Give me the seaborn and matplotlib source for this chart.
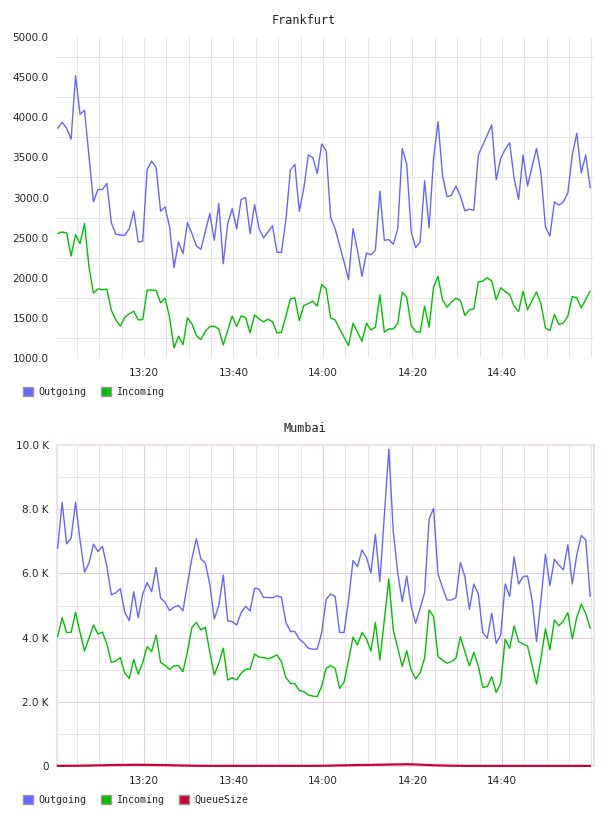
import numpy as np
import pandas as pd
import matplotlib
matplotlib.use("Agg")
import matplotlib.pyplot as plt
import seaborn as sns
from matplotlib.patches import Patch
from matplotlib.ticker import FixedLocator, MultipleLocator

# ---------------- data ----------------
series_names = ["Outgoing", "Incoming", "QueueSize"]
colors = {"Outgoing": "#6666ff", "Incoming": "#00c000", "QueueSize": "#cc0033"}

# one sample per minute, first sample at 13:00:43
frankfurt_out = [3863, 3937, 3863, 3729, 4517, 4037, 4087, 3508, 2946, 3100,
                 3100, 3175, 2683, 2542, 2533, 2529, 2612, 2829, 2446, 2454,
                 3350, 3454, 3375, 2829, 2883, 2633, 2125, 2446, 2300, 2687,
                 2550, 2396, 2354, 2579, 2800, 2467, 2925, 2175, 2675, 2862,
                 2612, 2975, 3000, 2550, 2912, 2612, 2496, 2571, 2646, 2317,
                 2317, 2717, 3342, 3412, 2829, 3112, 3529, 3500, 3300, 3667,
                 3583, 2750, 2612, 2404, 2196, 1975, 2612, 2342, 2017, 2308,
                 2287, 2342, 3079, 2467, 2475, 2417, 2612, 3612, 3417, 2571,
                 2375, 2446, 3208, 2625, 3487, 3946, 3279, 3008, 3029, 3142,
                 3017, 2833, 2854, 2842, 3529, 3654, 3779, 3904, 3225, 3487,
                 3600, 3683, 3237, 2975, 3529, 3142, 3383, 3612, 3300, 2633,
                 2521, 2946, 2904, 2946, 3058, 3529, 3800, 3308, 3529, 3121]
frankfurt_in = [2550, 2571, 2558, 2271, 2537, 2425, 2675, 2133, 1808, 1862,
                1850, 1858, 1592, 1475, 1396, 1508, 1550, 1583, 1475, 1479,
                1846, 1846, 1842, 1687, 1746, 1508, 1125, 1271, 1167, 1500,
                1425, 1279, 1229, 1333, 1392, 1396, 1362, 1162, 1342, 1521,
                1392, 1525, 1504, 1312, 1537, 1487, 1450, 1483, 1454, 1312,
                1321, 1521, 1733, 1750, 1467, 1654, 1679, 1708, 1646, 1917,
                1862, 1500, 1475, 1362, 1258, 1154, 1433, 1321, 1208, 1433,
                1350, 1383, 1787, 1321, 1362, 1362, 1433, 1821, 1758, 1404,
                1329, 1321, 1646, 1383, 1883, 2017, 1725, 1633, 1696, 1746,
                1717, 1529, 1600, 1612, 1946, 1958, 2000, 1958, 1725, 1875,
                1829, 1792, 1646, 1579, 1833, 1600, 1717, 1821, 1675, 1375,
                1342, 1542, 1417, 1437, 1521, 1767, 1750, 1625, 1729, 1833]

# Mumbai values in thousands
mumbai_out = [6.78, 8.21, 6.92, 7.10, 8.21, 7.04, 6.04, 6.32, 6.91, 6.68,
              6.84, 6.21, 5.33, 5.40, 5.52, 4.79, 4.53, 5.43, 4.62, 5.36,
              5.71, 5.43, 6.18, 5.23, 5.10, 4.84, 4.95, 5.00, 4.84, 5.67,
              6.47, 7.08, 6.45, 6.32, 5.66, 4.58, 4.99, 5.95, 4.52, 4.50,
              4.39, 4.78, 4.97, 4.83, 5.54, 5.51, 5.25, 5.25, 5.24, 5.30,
              5.26, 4.47, 4.19, 4.19, 3.95, 3.84, 3.67, 3.64, 3.64, 4.16,
              5.19, 5.36, 5.28, 4.16, 4.16, 5.17, 6.40, 6.21, 6.73, 6.50,
              6.01, 7.22, 5.75, 7.80, 9.87, 7.30, 6.01, 5.12, 5.92, 4.97,
              4.45, 4.91, 5.40, 7.69, 8.03, 5.97, 5.56, 5.17, 5.17, 5.25,
              6.34, 5.90, 4.88, 5.67, 5.36, 4.16, 3.98, 4.76, 3.82, 4.08,
              5.67, 5.28, 6.52, 5.67, 5.90, 5.92, 5.17, 3.88, 5.17, 6.60,
              5.62, 6.44, 6.26, 6.11, 6.89, 5.67, 6.58, 7.18, 7.04, 5.28]
mumbai_in = [4.03, 4.62, 4.16, 4.16, 4.79, 4.16, 3.58, 3.98, 4.39, 4.11,
             4.17, 3.80, 3.23, 3.27, 3.38, 2.89, 2.73, 3.32, 2.86, 3.22,
             3.72, 3.56, 4.08, 3.23, 3.13, 3.01, 3.12, 3.13, 2.94, 3.56,
             4.32, 4.47, 4.24, 4.32, 3.54, 2.84, 3.20, 3.67, 2.68, 2.75,
             2.68, 2.89, 3.01, 3.02, 3.49, 3.39, 3.38, 3.34, 3.39, 3.46,
             3.25, 2.76, 2.58, 2.56, 2.35, 2.32, 2.21, 2.18, 2.16, 2.49,
             3.04, 3.13, 3.04, 2.42, 2.61, 3.30, 4.01, 3.77, 4.16, 3.96,
             3.58, 4.47, 3.30, 4.55, 5.82, 4.24, 3.67, 3.10, 3.59, 2.99,
             2.71, 2.91, 3.36, 4.86, 4.65, 3.41, 3.30, 3.20, 3.25, 3.36,
             4.03, 3.56, 3.12, 3.54, 3.12, 2.45, 2.47, 2.78, 2.29, 2.58,
             3.95, 3.67, 4.36, 3.88, 3.80, 3.74, 3.15, 2.55, 3.36, 4.27,
             3.62, 4.55, 4.37, 4.52, 4.78, 3.96, 4.63, 5.04, 4.76, 4.29]
mumbai_queue = [0.005, 0.005, 0.006, 0.008, 0.008, 0.010, 0.012, 0.015, 0.018, 0.020,
                0.022, 0.025, 0.028, 0.030, 0.032, 0.035, 0.036, 0.038, 0.038, 0.036,
                0.035, 0.033, 0.030, 0.028, 0.026, 0.024, 0.020, 0.018, 0.015, 0.012,
                0.010, 0.008, 0.006, 0.005, 0.005, 0.004, 0.004, 0.004, 0.005, 0.005,
                0.005, 0.005, 0.005, 0.005, 0.005, 0.005, 0.005, 0.005, 0.005, 0.005,
                0.005, 0.005, 0.005, 0.005, 0.005, 0.005, 0.005, 0.005, 0.006, 0.008,
                0.010, 0.012, 0.015, 0.018, 0.020, 0.022, 0.025, 0.028, 0.030, 0.032,
                0.035, 0.038, 0.040, 0.042, 0.045, 0.048, 0.050, 0.052, 0.055, 0.052,
                0.048, 0.042, 0.035, 0.028, 0.022, 0.018, 0.015, 0.012, 0.010, 0.008,
                0.006, 0.005, 0.005, 0.004, 0.004, 0.004, 0.004, 0.004, 0.004, 0.004,
                0.004, 0.004, 0.004, 0.004, 0.004, 0.004, 0.004, 0.004, 0.004, 0.004,
                0.004, 0.004, 0.004, 0.004, 0.004, 0.004, 0.004, 0.004, 0.004, 0.004]

x_tick_values = [800, 820, 840, 860, 880]          # minutes since midnight
x_tick_labels = ["13:20", "13:40", "14:00", "14:20", "14:40"]
fr_ticks = [1000, 1500, 2000, 2500, 3000, 3500, 4000, 4500, 5000]
fr_tick_labels = ["1000.0", "1500.0", "2000.0", "2500.0", "3000.0",
                  "3500.0", "4000.0", "4500.0", "5000.0"]
mu_ticks = [0, 2, 4, 6, 8, 10]
mu_tick_labels = ["0", "2.0 K", "4.0 K", "6.0 K", "8.0 K", "10.0 K"]

start_min = 13 * 60 + 43 / 60.0
xlim = (13 * 60 + 34 / 60.0, 15 * 60 + 34 / 60.0)


def long_df(d):
    frames = []
    for name, vals in d.items():
        frames.append(pd.DataFrame({"minute": start_min + np.arange(len(vals)),
                                    "value": vals, "series": name}))
    return pd.concat(frames, ignore_index=True)


df_fr = long_df({"Outgoing": frankfurt_out, "Incoming": frankfurt_in})
df_mu = long_df({"Outgoing": mumbai_out, "Incoming": mumbai_in, "QueueSize": mumbai_queue})

# ---------------- figure ----------------
sns.set_style("white")
plt.rcParams["font.family"] = ["DejaVu Sans"]

W, H = 608, 816
fig = plt.figure(figsize=(W / 100, H / 100), dpi=100)
ax1 = fig.add_axes([57 / W, 1 - 358 / H, 537 / W, 321 / H])
ax2 = fig.add_axes([57 / W, 1 - 766 / H, 537 / W, 321 / H])

sns.lineplot(data=df_fr, x="minute", y="value", hue="series", palette=colors,
             linewidth=1.0, ax=ax1, legend=False, errorbar=None, sort=False)
sns.lineplot(data=df_mu, x="minute", y="value", hue="series", palette=colors,
             linewidth=1.0, ax=ax2, legend=False, errorbar=None, sort=False)

grey = "#e6e6e6"
pink = "#e2cce2"
pink_border = "#efe0ef"
gw = 0.75
tick_font = dict(family="DejaVu Sans", size=7.5)

# --- Frankfurt axes
ax1.set_xlim(*xlim)
ax1.set_ylim(1000, 5000)
ax1.set_xticks(x_tick_values)
ax1.set_xticklabels(x_tick_labels, **tick_font)
ax1.xaxis.set_minor_locator(MultipleLocator(5))
ax1.set_yticks(fr_ticks)
ax1.set_yticklabels(fr_tick_labels, **tick_font)
ax1.yaxis.set_minor_locator(FixedLocator([1250, 1750, 2250, 2750, 3250, 3750, 4250, 4750]))
ax1.grid(False)
ax1.xaxis.grid(True, which="both", color=grey, linewidth=gw)
ax1.yaxis.grid(True, which="minor", color=grey, linewidth=gw)
ax1.set_axisbelow(True)
for s in ax1.spines.values():
    s.set_visible(False)

# --- Mumbai axes
ax2.set_xlim(*xlim)
ax2.set_ylim(0, 10)
ax2.set_xticks(x_tick_values)
ax2.set_xticklabels(x_tick_labels, **tick_font)
ax2.xaxis.set_minor_locator(MultipleLocator(5))
ax2.set_yticks(mu_ticks)
ax2.set_yticklabels(mu_tick_labels, **tick_font)
ax2.yaxis.set_minor_locator(MultipleLocator(1))
ax2.grid(False)
ax2.xaxis.grid(True, which="minor", color=grey, linewidth=gw)
ax2.yaxis.grid(True, which="minor", color=grey, linewidth=gw)
ax2.xaxis.grid(True, which="major", color=pink, linewidth=gw)
ax2.yaxis.grid(True, which="major", color=pink, linewidth=gw)
ax2.set_axisbelow(True)
for s in ax2.spines.values():
    s.set_visible(True)
    s.set_color(pink_border)
    s.set_linewidth(1.5)
for ln in ax2.lines:
    ln.set_clip_on(False)
    ln.set_zorder(3)
for ln in ax2.lines[-1:]:
    ln.set_linewidth(1.6)

for ax in (ax1, ax2):
    ax.set_xlabel("")
    ax.set_ylabel("")
    ax.tick_params(axis="both", which="both", length=0)
    ax.tick_params(axis="y", pad=6)
    ax.tick_params(axis="x", pad=7)

# titles
title_font = dict(family="DejaVu Sans Mono", size=8.5, color="#222222")
fig.text(304 / W, 1 - 20 / H, "Frankfurt", ha="center", va="center", **title_font)
fig.text(305 / W, 1 - 428 / H, "Mumbai", ha="center", va="center", **title_font)

# legends
leg_font = dict(family="DejaVu Sans Mono", size=7.2)


def make_legend(names, ypix):
    handles = [Patch(facecolor=colors[n], edgecolor="#999999", linewidth=1.0) for n in names]
    leg = fig.legend(handles, names, loc="center left",
                     bbox_to_anchor=(23 / W, 1 - ypix / H), ncol=len(names),
                     frameon=False, prop=leg_font, handlelength=1.0, handleheight=1.0,
                     handletextpad=0.5, columnspacing=1.5, borderpad=0, borderaxespad=0)
    return leg


make_legend(["Outgoing", "Incoming"], 392)
make_legend(["Outgoing", "Incoming", "QueueSize"], 800)

fig.savefig("out.png", dpi=100)
